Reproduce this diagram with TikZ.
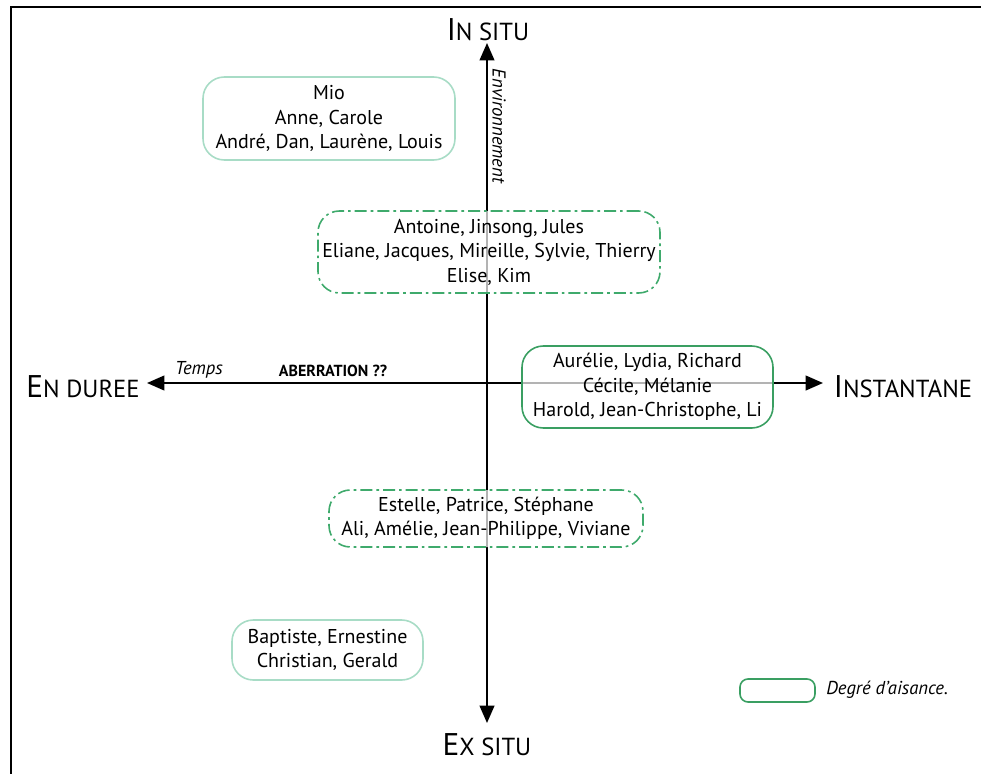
\documentclass[tikz,border=0pt]{standalone}
\usepackage{fontspec}
\setmainfont{PT Sans}
\usetikzlibrary{arrows.meta}
\definecolor{mint}{HTML}{A8DCC6}
\definecolor{midgreen}{HTML}{3FAA6C}
\definecolor{deepgreen}{HTML}{3A9F62}
\tikzset{
  axis/.style={line width=1.5pt, -{Triangle[length=13pt,width=11pt]}},
  namebox/.style={rectangle, rounded corners=16pt, align=center, inner sep=0pt,
    fill=white, fill opacity=0.7, text opacity=1, line width=1.2pt,
    font=\fontsize{15}{18.4}\selectfont},
  lightbox/.style={namebox, draw=mint},
  dashbox/.style={namebox, draw=midgreen, dash pattern=on 9pt off 3pt on 2pt off 3pt},
  solidbox/.style={namebox, draw=deepgreen},
  biglabel/.style={inner sep=0pt},
}
\newcommand\bigI[1]{{\fontsize{23.5}{23.5}\selectfont #1}}
\newcommand\smallrest[1]{{\fontsize{18.5}{18.5}\selectfont #1}}
\begin{document}
\begin{tikzpicture}[x=0.75pt,y=-0.75pt]
\useasboundingbox (0,0) rectangle (981,774);
% frame edges
\draw[line width=1.5pt] (11,774) -- (11,7.5) -- (981,7.5);

% axes
\coordinate (ctr) at (487,383);
\coordinate (top) at (487,43);
\coordinate (bot) at (487,723);
\coordinate (lft) at (147,383);
\coordinate (rgt) at (823,383);
\draw[axis] (ctr) -- (top);
\draw[axis] (ctr) -- (bot);
\draw[axis] (ctr) -- (lft);
\draw[axis] (ctr) -- (rgt);

% axis labels
\node[biglabel] (insitu) at (488,30) {\bigI{I}\smallrest{N SITU}};
\node[biglabel] (exsitu) at (487,745) {\bigI{E}\smallrest{X SITU}};
\node[biglabel] (duree) at (83,387) {\bigI{E}\smallrest{N DUREE}};
\node[biglabel] (instant) at (903,387) {\bigI{I}\smallrest{NSTANTANE}};
\node[rotate=-90, font=\itshape\fontsize{14}{14}\selectfont] (env) at (499,126) {Environnement};
\node[font=\itshape\fontsize{14}{14}\selectfont] (temps) at (199,370) {Temps};
\node[font=\bfseries\fontsize{12}{12}\selectfont] (aberr) at (333,371) {ABERRATION ??};

% groups
\node[lightbox, minimum width=189pt, minimum height=62.25pt] (g1) at (329,118.5)
  {Mio\\Anne, Carole\\André, Dan, Laurène, Louis};
\node[dashbox, minimum width=256.5pt, minimum height=61.5pt] (g2) at (489,252)
  {Antoine, Jinsong, Jules\\Eliane, Jacques, Mireille, Sylvie, Thierry\\Elise, Kim};
\node[solidbox, minimum width=188.25pt, minimum height=61.5pt] (g3) at (647.5,387)
  {Aurélie, Lydia, Richard\\Cécile, Mélanie\\Harold, Jean-Christophe, Li};
\node[dashbox, minimum width=235.5pt, minimum height=42.75pt] (g4) at (486,518.5)
  {Estelle, Patrice, Stéphane\\Ali, Amélie, Jean-Philippe, Viviane};
\node[lightbox, minimum width=143.25pt, minimum height=45pt] (g5) at (327.5,650)
  {Baptiste, Ernestine\\Christian, Gerald};

% legend
\node[draw=deepgreen, line width=1.2pt, rounded corners=6pt, minimum width=56.25pt,
  minimum height=17.25pt, inner sep=0pt] (key) at (777.5,690.5) {};
\node[anchor=west, inner sep=0pt, font=\itshape\fontsize{14}{14}\selectfont]
  (keytext) at (826,690) {Degré d'aisance.};
\end{tikzpicture}
\end{document}
